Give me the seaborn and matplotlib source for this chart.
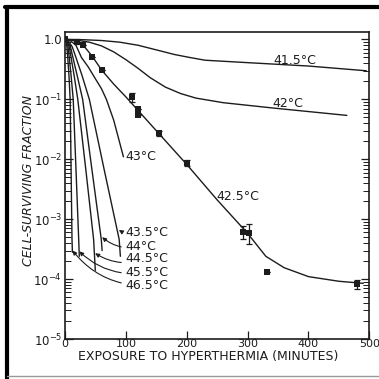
import matplotlib
matplotlib.use('Agg')
import matplotlib.pyplot as plt
import matplotlib.ticker as mticker
from matplotlib.lines import Line2D
import seaborn as sns

# Survival curves (minutes, surviving fraction)
t415 = [0, 30, 60, 90, 120, 150, 180, 205, 230, 300, 400, 495]
s415 = [1.0, 0.99, 0.96, 0.9, 0.8, 0.67, 0.56, 0.5, 0.45, 0.41, 0.36, 0.30]

t42 = [0, 20, 40, 60, 80, 100, 120, 140, 165, 190, 215, 260, 340, 463]
s42 = [1.0, 0.97, 0.9, 0.78, 0.62, 0.46, 0.33, 0.23, 0.16, 0.125, 0.105, 0.088, 0.072, 0.054]

t425 = [0, 10, 20, 30, 45, 60, 80, 100, 150, 200, 250, 300, 330, 360, 400, 450, 490]
s425 = [1.0, 0.98, 0.92, 0.8, 0.52, 0.31, 0.18, 0.11, 0.03, 0.0082, 0.0021, 5.8e-4,
        2.4e-4, 1.55e-4, 1.1e-4, 9.2e-5, 8.5e-5]

t43 = [0, 9, 18, 27, 38, 50, 60, 68, 80, 96]
s43 = [1.0, 0.95, 0.8, 0.5, 0.35, 0.22, 0.15, 0.1, 0.045, 0.011]

t435 = [0, 6, 12, 18, 28, 40, 64, 89, 91]
s435 = [1.0, 0.93, 0.75, 0.5, 0.25, 0.1, 0.007, 4.6e-4, 2.4e-4]

t44 = [0, 4.5, 9, 13, 20, 29, 44, 59.6, 61]
s44 = [1.0, 0.93, 0.75, 0.5, 0.25, 0.1, 0.007, 4.6e-4, 3.0e-4]

t445 = [0, 3.5, 7, 10, 15, 21, 34, 47, 49.8]
s445 = [1.0, 0.93, 0.75, 0.5, 0.25, 0.1, 0.007, 4.6e-4, 1.4e-4]

t455 = [0, 2.5, 5, 7, 10, 13.5, 18, 22.5, 23.5]
s455 = [1.0, 0.93, 0.75, 0.5, 0.25, 0.1, 0.007, 4.6e-4, 2.4e-4]

t465 = [0, 1.5, 3, 4.5, 6.5, 8.5, 11.5, 12.2]
s465 = [1.0, 0.93, 0.78, 0.5, 0.25, 0.1, 4.6e-4, 2.8e-4]

# measured points at 42.5 C with error limits
pt_t = [0, 20, 30, 45, 60, 110, 120, 120, 155, 200, 292, 302, 332, 480]
pt_s = [1.0, 0.92, 0.8, 0.51, 0.31, 0.11, 0.07, 0.054, 0.027, 0.0087, 6.2e-4, 5.8e-4, 1.3e-4, 8.2e-5]
pt_lo = [1.0, 0.85, 0.8, 0.51, 0.31, 0.092, 0.07, 0.054, 0.024, 0.0077, 4.7e-4, 3.8e-4, 1.3e-4, 6.8e-5]
pt_hi = [1.0, 1.0, 0.8, 0.51, 0.31, 0.13, 0.07, 0.054, 0.030, 0.0098, 7.6e-4, 8.4e-4, 1.3e-4, 9.8e-5]

curves = [(t415, s415), (t42, s42), (t425, s425), (t43, s43), (t435, s435),
          (t44, s44), (t445, s445), (t455, s455), (t465, s465)]

# plain labels: text, x, y
plain_labels = [('41.5°C', 342, 0.45), ('42°C', 340, 0.086),
                ('43°C', 100, 0.011), ('42.5°C', 249, 0.0024)]
# arrow labels: text, text x, text y, arrow x, arrow y
arrow_labels = [('43.5°C', 100, 6.0e-4, 88.5, 6.6e-4),
                ('44°C', 100, 3.5e-4, 61, 5.0e-4),
                ('44.5°C', 100, 2.2e-4, 49.5, 2.7e-4),
                ('45.5°C', 100, 1.3e-4, 23.5, 2.9e-4),
                ('46.5°C', 100, 7.8e-5, 12.4, 3.0e-4)]

ink = '#1c1c1c'
sns.set_style('ticks')
plt.rcParams['font.family'] = ['DejaVu Sans']

fig = plt.figure(figsize=(3.79, 3.79), dpi=100)
ax = fig.add_axes([0.1715, 0.1055, 0.803, 0.81])

for t, s in curves:
    sns.lineplot(x=t, y=s, ax=ax, color=ink, lw=1.0, sort=False, estimator=None)

yerr = [[y - lo for y, lo in zip(pt_s, pt_lo)], [hi - y for y, hi in zip(pt_s, pt_hi)]]
ax.errorbar(pt_t, pt_s, yerr=yerr, fmt='none', ecolor=ink, elinewidth=0.9, capsize=2.2, capthick=0.9)
sns.scatterplot(x=pt_t, y=pt_s, ax=ax, marker='s', s=14, color=ink, edgecolor=ink, linewidth=0)

ax.set_yscale('log')
ax.set_xlim(0, 500)
ax.set_ylim(1e-5, 1.33)

ax.set_yticks([1, 1e-1, 1e-2, 1e-3, 1e-4, 1e-5])
ax.set_yticklabels(['1.0', '$10^{-1}$', '$10^{-2}$', '$10^{-3}$', '$10^{-4}$', '$10^{-5}$'])
ax.yaxis.set_minor_locator(mticker.LogLocator(base=10, subs=range(2, 10), numticks=20))
ax.yaxis.set_minor_formatter(mticker.NullFormatter())
ax.set_xticks([0, 100, 200, 300, 400, 500])
ax.tick_params(axis='y', which='both', direction='in', left=True, right=True, labelsize=8.5, colors=ink, pad=2)
ax.tick_params(axis='y', which='major', length=6, width=0.9)
ax.tick_params(axis='y', which='minor', length=4, width=0.7)
ax.tick_params(axis='x', direction='in', length=6, width=0.9, labelsize=8, colors=ink, pad=0)
for sp in ax.spines.values():
    sp.set_linewidth(1.2)
    sp.set_color(ink)

ax.set_xlabel('EXPOSURE TO HYPERTHERMIA (MINUTES)', fontsize=9, color=ink)
ax.xaxis.set_label_coords(0.472, -0.037)
ax.set_ylabel('CELL-SURVIVING FRACTION', fontsize=9, style='italic', color=ink)
ax.yaxis.set_label_coords(-0.097, 0.515)

for txt, x, y in plain_labels:
    ax.text(x, y, txt, fontsize=9, color=ink, ha='left', va='center')
for txt, x, y, ax_x, ax_y in arrow_labels:
    ax.annotate(txt, xy=(ax_x, ax_y), xytext=(x, y), fontsize=9, color=ink,
                ha='left', va='center',
                arrowprops=dict(arrowstyle='-|>', color=ink, lw=0.8, mutation_scale=6,
                                shrinkA=1, shrinkB=0, connectionstyle='arc3,rad=-0.25'))

# scanned page border
fig.add_artist(Line2D([7 / 379, 7 / 379], [0, 1 - 7 / 379], color='black', lw=3, transform=fig.transFigure))
fig.add_artist(Line2D([5 / 379, 1], [1 - 7 / 379, 1 - 7 / 379], color='black', lw=3, transform=fig.transFigure))
fig.add_artist(Line2D([7 / 379, 1], [3 / 379, 3 / 379], color='#999999', lw=1, transform=fig.transFigure))

fig.savefig('out.png', dpi=100, facecolor='white')
